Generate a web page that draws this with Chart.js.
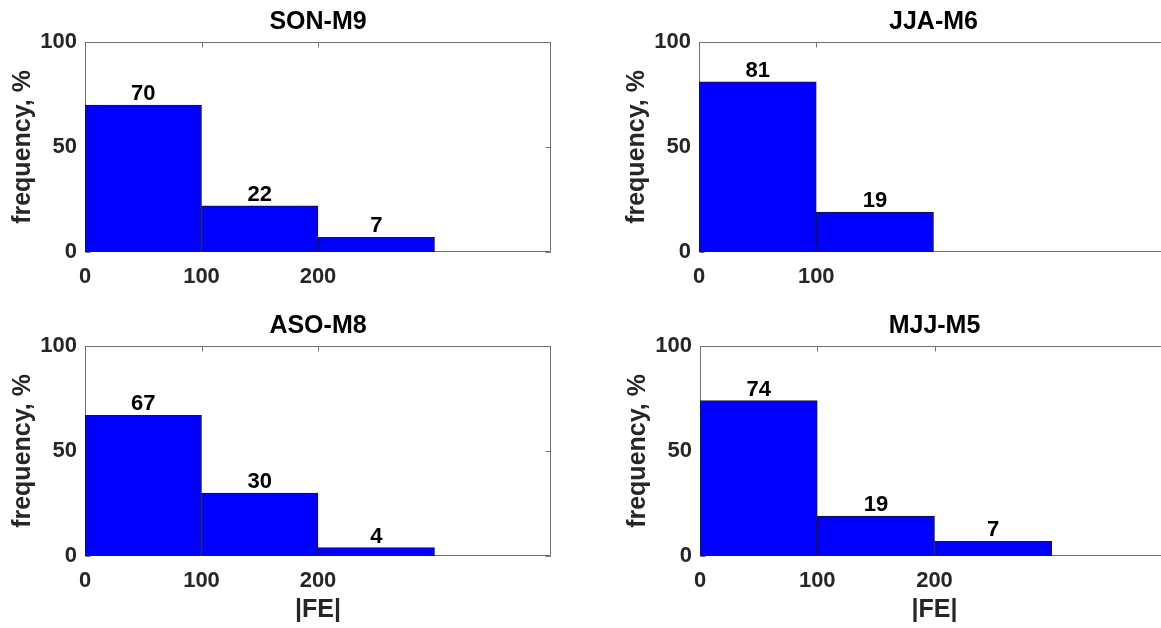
<!DOCTYPE html>
<html>
<head>
<meta charset="utf-8">
<script src="https://cdn.jsdelivr.net/npm/chart.js@4"></script>
<style>
  html, body { margin: 0; padding: 0; background: #fff; }
  body { width: 1161px; height: 628px; overflow: hidden; position: relative; }
  canvas { position: absolute; }
</style>
</head>
<body>
<canvas id="c0" width="580" height="324" style="left:0px;top:0px"></canvas>
<canvas id="c1" width="580" height="324" style="left:614px;top:0px"></canvas>
<canvas id="c2" width="580" height="324" style="left:0px;top:304px"></canvas>
<canvas id="c3" width="580" height="324" style="left:615px;top:304px"></canvas>
<script>
// histogram data
const panelTitles = ["SON-M9", "JJA-M6", "ASO-M8", "MJJ-M5"];
const binEdges = [0, 100, 200, 300];
const sonValues = [70, 22, 7];
const jjaValues = [81, 19];
const asoValues = [67, 30, 4];
const mjjValues = [74, 19, 7];
const xTicksLong = [0, 100, 200];
const xTicksShort = [0, 100];
const yTicks = [0, 50, 100];
const yLabel = "frequency, %";
const xLabel = "|FE|";

const FONT = '"Liberation Sans", Arial, sans-serif';
const AXIS_COLOR = "#262626";

// box round the axes with inward ticks, drawn under the bars like MATLAB
const boxPlugin = {
  id: "box",
  beforeDatasetsDraw(chart) {
    const { ctx, chartArea: a, scales } = chart;
    const l = Math.round(a.left) + 0.5, r = Math.round(a.right) - 0.5;
    const t = Math.round(a.top) + 0.5, b = Math.round(a.bottom) - 0.5;
    ctx.save();
    ctx.strokeStyle = "#707070";
    ctx.lineWidth = 1;
    ctx.strokeRect(l, t, r - l, b - t);
    ctx.beginPath();
    scales.x.ticks.forEach((tk) => {
      const px = Math.round(scales.x.getPixelForValue(tk.value)) + 0.5;
      ctx.moveTo(px, t); ctx.lineTo(px, t + 5);
      ctx.moveTo(px, b); ctx.lineTo(px, b - 5);
    });
    scales.y.ticks.forEach((tk) => {
      const py = Math.round(scales.y.getPixelForValue(tk.value)) + 0.5;
      ctx.moveTo(l, py); ctx.lineTo(l + 5, py);
      ctx.moveTo(r, py); ctx.lineTo(r - 5, py);
    });
    ctx.stroke();
    ctx.restore();
  },
};

// value printed above each bar
const valuePlugin = {
  id: "values",
  afterDatasetsDraw(chart) {
    const { ctx } = chart;
    const ds = chart.data.datasets[0];
    ctx.save();
    ctx.font = "bold 22px " + FONT;
    ctx.fillStyle = "#000";
    ctx.textAlign = "center";
    ctx.textBaseline = "alphabetic";
    chart.getDatasetMeta(0).data.forEach((bar, i) => {
      ctx.fillText(String(ds.data[i].y), bar.x, bar.y - 5);
    });
    ctx.restore();
  },
};

function makePanel(id, title, values, xTicks, showXLabel, padRight) {
  const points = values.map((v, i) => ({
    x: (binEdges[i] + binEdges[i + 1]) / 2,
    y: v,
  }));
  new Chart(document.getElementById(id), {
    type: "bar",
    data: {
      datasets: [{
        data: points,
        backgroundColor: "#0000ff",
        borderColor: "#1a1a1a",
        borderWidth: 1,
        barPercentage: 1,
        categoryPercentage: 1,
      }],
    },
    options: {
      responsive: false,
      animation: false,
      layout: { padding: { left: 0, right: padRight, top: 0, bottom: 0 } },
      plugins: {
        legend: { display: false },
        tooltip: { enabled: false },
        title: {
          display: true,
          text: title,
          fullSize: false,
          color: "#000",
          font: { family: FONT, size: 25, weight: "bold", lineHeight: 1.2 },
          padding: { top: 7.5, bottom: 4.5 },
        },
      },
      scales: {
        x: {
          type: "linear",
          offset: false,
          min: 0,
          max: 400,
          grid: { display: false, drawTicks: false },
          border: { display: false },
          afterBuildTicks: (s) => { s.ticks = xTicks.map((v) => ({ value: v })); },
          afterFit: (s) => { s.height = 72; },
          ticks: {
            color: AXIS_COLOR,
            padding: 12,
            maxRotation: 0,
            font: { family: FONT, size: 22, weight: "bold" },
          },
          title: {
            display: showXLabel,
            text: xLabel,
            color: AXIS_COLOR,
            font: { family: FONT, size: 25, weight: "bold", lineHeight: 1.2 },
            padding: { top: 0, bottom: 3 },
          },
        },
        y: {
          min: 0,
          max: 100,
          grid: { display: false, drawTicks: false },
          border: { display: false },
          afterBuildTicks: (s) => { s.ticks = yTicks.map((v) => ({ value: v })); },
          afterFit: (s) => { s.width = 85; },
          ticks: {
            color: AXIS_COLOR,
            padding: 8,
            font: { family: FONT, size: 22, weight: "bold" },
          },
          title: {
            display: true,
            text: yLabel,
            color: AXIS_COLOR,
            font: { family: FONT, size: 25, weight: "bold", lineHeight: 1.2 },
            padding: { top: 8, bottom: 0 },
          },
        },
      },
    },
    plugins: [boxPlugin, valuePlugin],
  });
}

makePanel("c0", panelTitles[0], sonValues, xTicksLong, false, 29);
makePanel("c1", panelTitles[1], jjaValues, xTicksShort, false, 26);
makePanel("c2", panelTitles[2], asoValues, xTicksLong, true, 29);
makePanel("c3", panelTitles[3], mjjValues, xTicksLong, true, 26);
</script>
</body>
</html>
